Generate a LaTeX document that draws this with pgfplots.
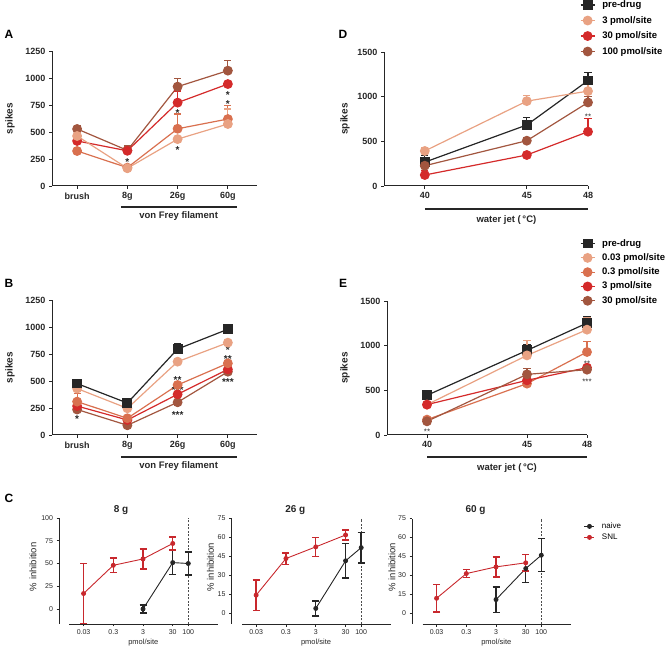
\documentclass[border=0pt]{standalone}
\usepackage{fontspec}
\setmainfont{Liberation Sans}
\usepackage{pgfplots}
\pgfplotsset{compat=1.18}
\definecolor{cblk}{HTML}{262626}
\definecolor{csal}{HTML}{E9A283}
\definecolor{corg}{HTML}{D9704F}
\definecolor{cred}{HTML}{D42A2A}
\definecolor{cbrn}{HTML}{A2563F}
\definecolor{csnl}{HTML}{C8282D}
\tikzset{
  st/.style={font=\bfseries\fontsize{10}{10}\selectfont, anchor=base, yshift=-5.6pt, inner sep=0pt, text=black!85},
  sts/.style={font=\fontsize{8}{8}\selectfont, anchor=base, yshift=-4.5pt, inner sep=0pt, text=black!80},
}
\pgfplotsset{
  pbase/.style={scale only axis, anchor=south west, clip=false,
    axis x line=bottom, axis y line=left,
    axis line style={-, line width=1pt, color=black!85},
    tick align=outside, major tick length=3pt,
    every tick/.style={line width=0.9pt, black!85},
    /pgf/number format/assume math mode=true, /pgf/number format/1000 sep={},
    ticklabel style={font=\bfseries\fontsize{9}{10}\selectfont, text=black!85},
    legend style={draw=none, fill=none, inner sep=0pt, outer sep=0pt, anchor=north west,
      font=\bfseries\fontsize{9.5}{10}\selectfont,
      nodes={inner sep=0pt, text height=7pt, text depth=2pt},
      /tikz/every odd column/.append style={column sep=7pt}},
    legend cell align=left,
    legend image code/.code={\draw[mark repeat=2,mark phase=2] plot coordinates {(0pt,0pt) (7pt,0pt) (14pt,0pt)};},
  },
  pbig/.style={pbase,
    every axis plot/.append style={line width=1.2pt, mark size=4.3pt,
      error bars/y dir=plus, error bars/y explicit,
      error bars/error bar style={line width=1.1pt},
      error bars/error mark options={rotate=90, mark size=3.6pt, line width=1.2pt}}},
  psml/.style={pbase, xmin=0.00447, xmax=1000,
    xtick={0.03,0.3,3,30,100}, xticklabels={0.03,0.3,3,30,100}, xminorticks=false,
    ticklabel style={font=\fontsize{7}{8}\selectfont},
    major tick length=2.5pt,
    axis line style={-, line width=0.8pt},
    every tick/.style={line width=0.7pt, black!85},
    x axis line style={shorten <=10.5pt},
    every axis plot/.append style={line width=0.9pt, mark size=2pt,
      error bars/y dir=both, error bars/y explicit,
      error bars/error bar style={line width=1.4pt},
      error bars/error mark options={rotate=90, mark size=3.5pt, line width=1.4pt}},
    legend style={font=\fontsize{8}{9}\selectfont, nodes={inner sep=0pt, text height=6pt, text depth=1.8pt}, row sep=3.2pt},
    legend image code/.code={\draw[mark repeat=2,mark phase=2] plot coordinates {(0pt,0pt) (5pt,0pt) (10pt,0pt)};},
  },
  refl/.style={line width=0.8pt, black!70, mark=none, forget plot, dash pattern=on 2pt off 1.5pt, error bars/y dir=none},
}
\begin{document}
\begin{tikzpicture}
\path[use as bounding box] (0,0) rectangle (666pt,650pt);

% ---------------- Panel A ----------------
\begin{axis}[pbig, at={(52pt,464pt)}, width=205pt, height=135pt,
  xmin=-0.5, xmax=3.58, ymin=0, ymax=1250,
  xtick={0,1,2,3}, xticklabels={brush,8g,26g,60g}, ytick={0,250,...,1250}]
\addplot[cbrn, mark=*] coordinates {(0,528) +- (0,27) (1,330) +- (0,40) (2,920) +- (0,77) (3,1068) +- (0,92)};
\addplot[corg, mark=*] coordinates {(0,324) +- (0,0) (1,170) +- (0,0) (2,530) +- (0,137) (3,620) +- (0,124)};
\addplot[cred, mark=*] coordinates {(0,417) +- (0,0) (1,326) +- (0,0) (2,772) +- (0,108) (3,944) +- (0,0)};
\addplot[csal, mark=*] coordinates {(0,463) +- (0,30) (1,164) +- (0,0) (2,434) +- (0,0) (3,574) +- (0,139)};
\node[st] at (axis cs:1,241) {*};
\node[st] at (axis cs:2,694) {*};
\node[st] at (axis cs:2,352) {*};
\node[st] at (axis cs:3,862) {*};
\node[st] at (axis cs:3,782) {*};
\draw[line width=1.4pt, black!85] ([yshift=-21pt]axis cs:0.87,0) -- ([yshift=-21pt]axis cs:3.18,0);
\node[font=\bfseries\fontsize{9.5}{10}\selectfont, text=black!85] at ([yshift=-30pt]axis cs:2.02,0) {von Frey filament};
\node[rotate=90, font=\bfseries\fontsize{10}{11}\selectfont, text=black!85] at ([xshift=-42pt]axis description cs:0,0.5) {spikes};
\end{axis}

% ---------------- Panel B ----------------
\begin{axis}[pbig, at={(52pt,215pt)}, width=205pt, height=135pt,
  xmin=-0.5, xmax=3.58, ymin=0, ymax=1250,
  xtick={0,1,2,3}, xticklabels={brush,8g,26g,60g}, ytick={0,250,...,1250}]
\addplot[cbrn, mark=*] coordinates {(0,236) +- (0,0) (1,90) +- (0,0) (2,303) +- (0,0) (3,586) +- (0,0)};
\addplot[cred, mark=*] coordinates {(0,268) +- (0,60) (1,139) +- (0,0) (2,377) +- (0,0) (3,608) +- (0,0)};
\addplot[corg, mark=*] coordinates {(0,309) +- (0,75) (1,155) +- (0,0) (2,463) +- (0,25) (3,664) +- (0,20)};
\addplot[csal, mark=*] coordinates {(0,430) +- (0,0) (1,247) +- (0,0) (2,679) +- (0,0) (3,855) +- (0,25)};
\addplot[cblk, mark=square*] coordinates {(0,476) +- (0,20) (1,296) +- (0,15) (2,796) +- (0,50) (3,979) +- (0,45)};
\node[st] at (axis cs:0,170) {*};
\node[st] at (axis cs:1,105) {**};
\node[st] at (axis cs:2,530) {**};
\node[st] at (axis cs:2,438) {***};
\node[st] at (axis cs:2,206) {***};
\node[st] at (axis cs:3,806) {*};
\node[st] at (axis cs:3,724) {**};
\node[st] at (axis cs:3,509) {***};
\draw[line width=1.4pt, black!85] ([yshift=-22pt]axis cs:0.87,0) -- ([yshift=-22pt]axis cs:3.18,0);
\node[font=\bfseries\fontsize{9.5}{10}\selectfont, text=black!85] at ([yshift=-31pt]axis cs:2.02,0) {von Frey filament};
\node[rotate=90, font=\bfseries\fontsize{10}{11}\selectfont, text=black!85] at ([xshift=-42pt]axis description cs:0,0.5) {spikes};
\end{axis}

% ---------------- Panel D ----------------
\begin{axis}[pbig, at={(384pt,464pt)}, width=204pt, height=134pt,
  xmin=38, xmax=48, ymin=0, ymax=1500,
  xtick={40,45,48}, ytick={0,500,1000,1500},
  legend style={at={(0.961,1.384)}, row sep=6.5pt}]
\addplot[cblk, mark=square*] coordinates {(40,267) +- (0,70) (45,683) +- (0,85) (48,1180) +- (0,90)};
\addlegendentry{pre-drug}
\addplot[csal, mark=*] coordinates {(40,392) +- (0,40) (45,950) +- (0,67) (48,1062) +- (0,104)};
\addlegendentry{3 pmol/site}
\addplot[cred, mark=*] coordinates {(40,123) +- (0,50) (45,347) +- (0,20) (48,608) +- (0,150)};
\addlegendentry{30 pmol/site}
\addplot[cbrn, mark=*] coordinates {(40,227) +- (0,30) (45,507) +- (0,40) (48,935) +- (0,63)};
\addlegendentry{100 pmol/site}
\node[sts] at (axis cs:48,795) {**};
\draw[line width=1.4pt, black!85] ([yshift=-23pt]axis cs:40,0) -- ([yshift=-23pt]axis cs:48,0);
\node[font=\bfseries\fontsize{9.5}{10}\selectfont, text=black!85] at ([yshift=-34pt]axis cs:44,0) {water jet (\,°C)};
\node[rotate=90, font=\bfseries\fontsize{10}{11}\selectfont, text=black!85] at ([xshift=-39pt]axis description cs:0,0.5) {spikes};
\end{axis}

% ---------------- Panel E ----------------
\begin{axis}[pbig, at={(387pt,215pt)}, width=200pt, height=134pt,
  xmin=38, xmax=48, ymin=0, ymax=1500,
  xtick={40,45,48}, ytick={0,500,1000,1500},
  legend style={at={(0.965,1.462)}, row sep=5.3pt}]
\addplot[cblk, mark=square*] coordinates {(40,444) +- (0,20) (45,947) +- (0,70) (48,1253) +- (0,70)};
\addlegendentry{pre-drug}
\addplot[csal, mark=*] coordinates {(40,340) +- (0,0) (45,891) +- (0,165) (48,1179) +- (0,140)};
\addlegendentry{0.03 pmol/site}
\addplot[corg, mark=*] coordinates {(40,172) +- (0,20) (45,575) +- (0,0) (48,929) +- (0,115)};
\addlegendentry{0.3 pmol/site}
\addplot[cred, mark=*] coordinates {(40,340) +- (0,90) (45,612) +- (0,0) (48,754) +- (0,0)};
\addlegendentry{3 pmol/site}
\addplot[cbrn, mark=*] coordinates {(40,153) +- (0,0) (45,679) +- (0,65) (48,731) +- (0,0)};
\addlegendentry{30 pmol/site}
\node[sts] at (axis cs:40,53) {**};
\node[sts] at (axis cs:48,817) {**};
\node[sts] at (axis cs:48,612) {***};
\draw[line width=1.4pt, black!85] ([yshift=-22pt]axis cs:40,0) -- ([yshift=-22pt]axis cs:48,0);
\node[font=\bfseries\fontsize{9.5}{10}\selectfont, text=black!85] at ([yshift=-33pt]axis cs:44,0) {water jet (\,°C)};
\node[rotate=90, font=\bfseries\fontsize{10}{11}\selectfont, text=black!85] at ([xshift=-42pt]axis description cs:0,0.5) {spikes};
\end{axis}

% ---------------- Panel C1 ----------------
\begin{axis}[xmode=log, psml, at={(59pt,26pt)}, width=159pt, height=106pt,
  ymin=-16.5, ymax=100, ytick={0,25,...,100}]
\addplot[refl] coordinates {(100,-16.5) (100,100)};
\addplot[cblk, mark=*] coordinates {(3,0) +- (0,4.5) (30,51) +- (0,13) (100,50) +- (0,12.5)};
\addplot[csnl, mark=*] coordinates {(0.03,17) +- (0,33) (0.3,48) +- (0,8) (3,55) +- (0,11) (30,72) +- (0,7)};
\node[font=\bfseries\fontsize{10}{11}\selectfont, text=black!85] at ([yshift=8pt]axis description cs:0.39,1) {8 g};
\node[font=\fontsize{7.5}{8}\selectfont, text=black!85] at ([yshift=-19pt]axis description cs:0.53,0) {pmol/site};
\node[rotate=90, font=\fontsize{9.5}{10}\selectfont, text=black!85] at ([xshift=-26pt]axis description cs:0,0.54) {\% inhibition};
\end{axis}

% ---------------- Panel C2 ----------------
\begin{axis}[xmode=log, psml, at={(231.5pt,26pt)}, width=159.5pt, height=105.5pt,
  ymin=-8.3, ymax=75, ytick={0,15,...,75}]
\addplot[refl] coordinates {(100,-8.3) (100,75)};
\addplot[cblk, mark=*] coordinates {(3,4) +- (0,6) (30,41.6) +- (0,13.5) (100,52) +- (0,12)};
\addplot[csnl, mark=*] coordinates {(0.03,14.5) +- (0,12) (0.3,43.4) +- (0,4.5) (3,52.6) +- (0,7.5) (30,62) +- (0,4)};
\node[font=\bfseries\fontsize{10}{11}\selectfont, text=black!85] at ([yshift=8pt]axis description cs:0.40,1) {26 g};
\node[font=\fontsize{7.5}{8}\selectfont, text=black!85] at ([yshift=-19pt]axis description cs:0.53,0) {pmol/site};
\node[rotate=90, font=\fontsize{9.5}{10}\selectfont, text=black!85] at ([xshift=-21pt]axis description cs:0,0.54) {\% inhibition};
\end{axis}

% ---------------- Panel C3 ----------------
\begin{axis}[xmode=log, psml, at={(412pt,26pt)}, width=159pt, height=105.5pt,
  ymin=-8.3, ymax=75, ytick={0,15,...,75},
  legend style={at={(1.082,0.962)}}]
\addplot[refl] coordinates {(100,-8.3) (100,75)};
\addplot[cblk, mark=*] coordinates {(3,11) +- (0,10) (30,35.5) +- (0,11) (100,46) +- (0,13)};
\addlegendentry{naive}
\addplot[csnl, mark=*] coordinates {(0.03,12) +- (0,10.8) (0.3,31.5) +- (0,3.2) (3,36.8) +- (0,7.9) (30,40) +- (0,6.6)};
\addlegendentry{SNL}
\node[font=\bfseries\fontsize{10}{11}\selectfont, text=black!85] at ([yshift=8pt]axis description cs:0.40,1) {60 g};
\node[font=\fontsize{7.5}{8}\selectfont, text=black!85] at ([yshift=-19pt]axis description cs:0.53,0) {pmol/site};
\node[rotate=90, font=\fontsize{9.5}{10}\selectfont, text=black!85] at ([xshift=-20pt]axis description cs:0,0.54) {\% inhibition};
\end{axis}

% panel letters
\node[font=\bfseries\fontsize{12}{13}\selectfont] at (9pt,616pt) {A};
\node[font=\bfseries\fontsize{12}{13}\selectfont] at (9pt,367pt) {B};
\node[font=\bfseries\fontsize{12}{13}\selectfont] at (9pt,152pt) {C};
\node[font=\bfseries\fontsize{12}{13}\selectfont] at (343pt,616pt) {D};
\node[font=\bfseries\fontsize{12}{13}\selectfont] at (343pt,367pt) {E};
\end{tikzpicture}
\end{document}
